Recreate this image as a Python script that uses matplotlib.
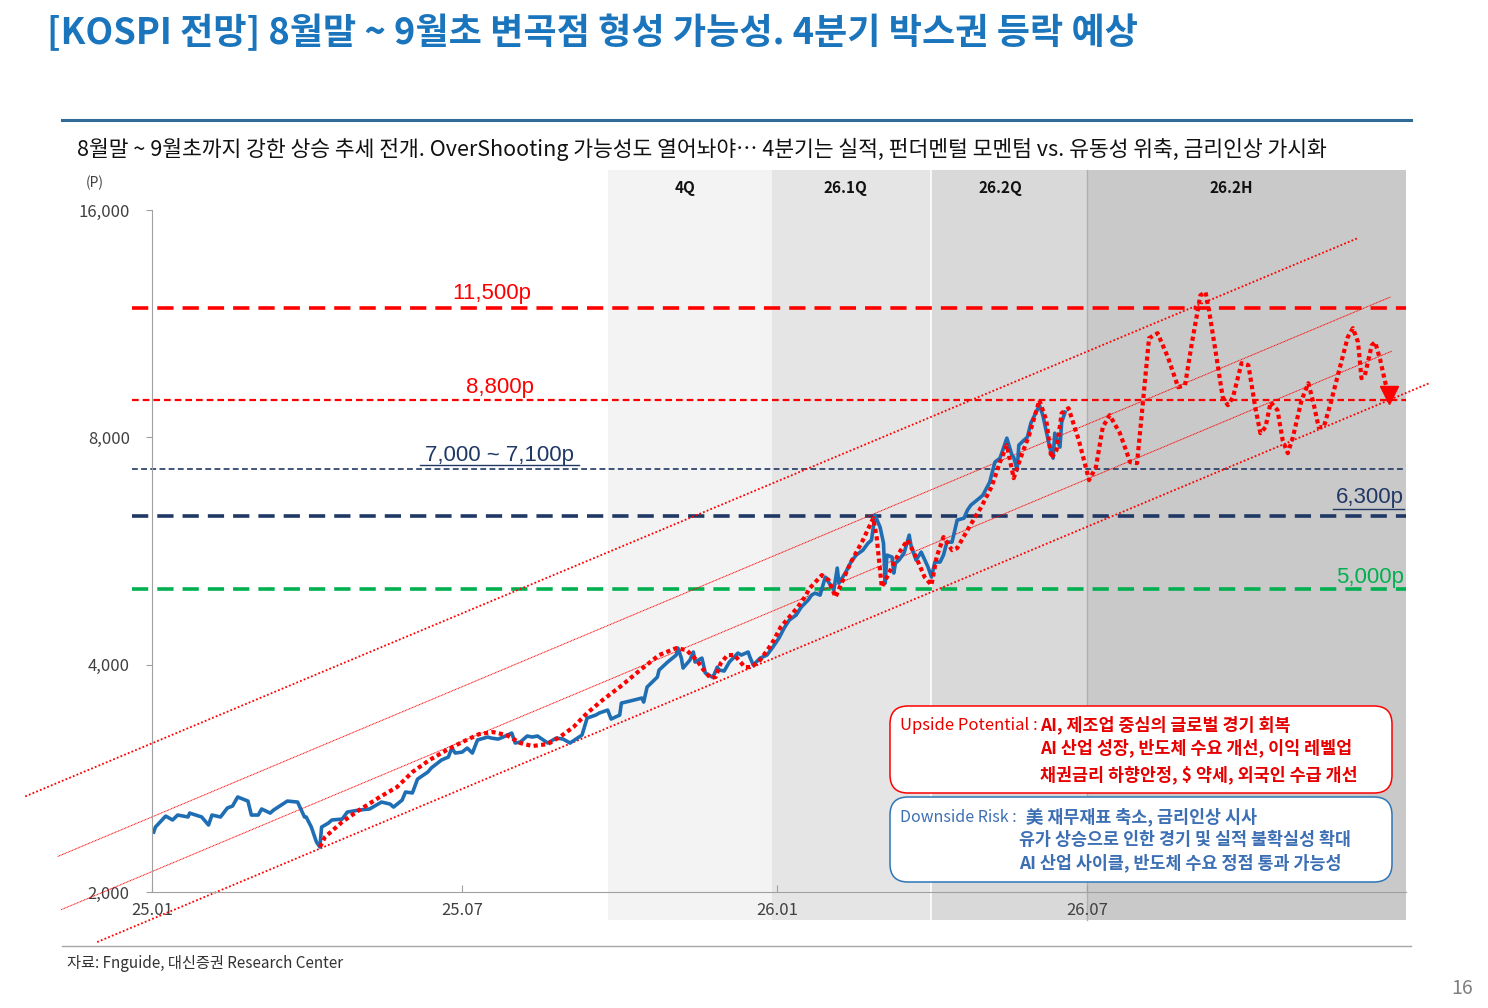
import matplotlib
matplotlib.use('Agg')
import matplotlib.pyplot as plt
import pandas as pd
from matplotlib.patches import FancyBboxPatch, Rectangle
from matplotlib.lines import Line2D
from matplotlib.ticker import NullLocator

plt.rcParams['font.family'] = ['Noto Sans CJK KR', 'DejaVu Sans']

kospi_dates = ['2025-01-02', '2025-01-03', '2025-01-09', '2025-01-13', '2025-01-16', '2025-01-22', '2025-01-23',
               '2025-01-30', '2025-02-03', '2025-02-05', '2025-02-10', '2025-02-14', '2025-02-17', '2025-02-20',
               '2025-02-26', '2025-02-28', '2025-03-04', '2025-03-06', '2025-03-11', '2025-03-13', '2025-03-21',
               '2025-03-27', '2025-03-31', '2025-04-01', '2025-04-04', '2025-04-07', '2025-04-09', '2025-04-10',
               '2025-04-14', '2025-04-16', '2025-04-22', '2025-04-25', '2025-05-02', '2025-05-08', '2025-05-15',
               '2025-05-20', '2025-05-22', '2025-05-27', '2025-05-29', '2025-06-02', '2025-06-05', '2025-06-11',
               '2025-06-13', '2025-06-19', '2025-06-23', '2025-06-25', '2025-06-27', '2025-07-01', '2025-07-04',
               '2025-07-07', '2025-07-10', '2025-07-16', '2025-07-18', '2025-07-22', '2025-07-25', '2025-07-30',
               '2025-08-01', '2025-08-04', '2025-08-08', '2025-08-11', '2025-08-14', '2025-08-20', '2025-08-25',
               '2025-08-29', '2025-09-02', '2025-09-09', '2025-09-12', '2025-09-17', '2025-09-19', '2025-09-24',
               '2025-09-26', '2025-10-01', '2025-10-02', '2025-10-07', '2025-10-14', '2025-10-15', '2025-10-17',
               '2025-10-23', '2025-10-24', '2025-10-29', '2025-11-03', '2025-11-04', '2025-11-06', '2025-11-07',
               '2025-11-11', '2025-11-13', '2025-11-14', '2025-11-18', '2025-11-20', '2025-11-24', '2025-11-25',
               '2025-11-27', '2025-11-28', '2025-12-01', '2025-12-04', '2025-12-08', '2025-12-09', '2025-12-11',
               '2025-12-15', '2025-12-16', '2025-12-18', '2025-12-22', '2025-12-26', '2025-12-29', '2026-01-02',
               '2026-01-05', '2026-01-08', '2026-01-12', '2026-01-15', '2026-01-19', '2026-01-21', '2026-01-23',
               '2026-01-26', '2026-01-29', '2026-02-03', '2026-02-05', '2026-02-06', '2026-02-10', '2026-02-13',
               '2026-02-16', '2026-02-20', '2026-02-23', '2026-02-25', '2026-02-27', '2026-03-02', '2026-03-04',
               '2026-03-05', '2026-03-06', '2026-03-09', '2026-03-10', '2026-03-11', '2026-03-13', '2026-03-16',
               '2026-03-19', '2026-03-20', '2026-03-23', '2026-03-26', '2026-03-30', '2026-04-01', '2026-04-03',
               '2026-04-06', '2026-04-08', '2026-04-10', '2026-04-13', '2026-04-16', '2026-04-20', '2026-04-22',
               '2026-04-24', '2026-04-29', '2026-05-01', '2026-05-05', '2026-05-08', '2026-05-11', '2026-05-13',
               '2026-05-15', '2026-05-18', '2026-05-19', '2026-05-21', '2026-05-22', '2026-05-25', '2026-05-27',
               '2026-05-29', '2026-06-03', '2026-06-05', '2026-06-09', '2026-06-11', '2026-06-12', '2026-06-15',
               '2026-06-16', '2026-06-18']
kospi_values = [2401, 2438, 2521, 2491, 2529, 2514, 2544,
                2514, 2453, 2529, 2514, 2584, 2599, 2672,
                2639, 2529, 2529, 2576, 2544, 2568, 2639,
                2631, 2514, 2514, 2438, 2329, 2294, 2438,
                2468, 2491, 2498, 2552, 2568, 2576, 2631,
                2615, 2591, 2647, 2713, 2705, 2822, 2883,
                2919, 2991, 3018, 3102, 3055, 3064, 3102,
                3055, 3179, 3208, 3198, 3188, 3208, 3247,
                3150, 3159, 3218, 3208, 3218, 3150, 3198,
                3188, 3150, 3227, 3399, 3430, 3451, 3483,
                3389, 3430, 3558, 3580, 3613, 3569, 3736,
                3852, 3935, 4032, 4119, 4207, 4081, 3959,
                4056, 4157, 4032, 4081, 3899, 3852, 3875,
                3971, 3935, 3923, 4032, 4119, 4144, 4119,
                4157, 4094, 3995, 4081, 4119, 4207, 4338,
                4472, 4583, 4653, 4768, 4870, 4945, 4975,
                4945, 5224, 5021, 5370, 5129, 5304, 5469,
                5586, 5672, 5795, 5848, 6311, 6084, 5795,
                5129, 5586, 5553, 5288, 5452, 5502, 5621,
                5938, 5759, 5502, 5638, 5386, 5224, 5469,
                5469, 5586, 5812, 5812, 6215, 6253, 6408,
                6506, 6646, 6707, 6979, 7417, 7508, 7740,
                7980, 7577, 7531, 7239, 7812, 7931, 8004,
                8353, 8824, 8559, 7764, 7508, 8102, 7764,
                8379, 8638]

# expected path (red dotted)
path_dates = ['2025-04-09', '2025-04-12', '2025-04-22', '2025-05-02', '2025-05-14', '2025-05-24', '2025-06-02',
              '2025-06-12', '2025-06-22', '2025-07-01', '2025-07-11', '2025-07-19', '2025-07-27', '2025-08-04',
              '2025-08-11', '2025-08-20', '2025-08-27', '2025-09-04', '2025-09-12', '2025-09-21', '2025-10-01',
              '2025-10-13', '2025-10-24', '2025-11-03', '2025-11-09', '2025-11-15', '2025-11-19', '2025-11-23',
              '2025-11-26', '2025-11-29', '2025-12-03', '2025-12-07', '2025-12-13', '2025-12-17', '2025-12-22',
              '2025-12-27', '2025-12-30', '2026-01-03', '2026-01-08', '2026-01-13', '2026-01-17', '2026-01-20',
              '2026-01-27', '2026-01-31', '2026-02-04', '2026-02-07', '2026-02-13', '2026-02-20', '2026-02-26',
              '2026-02-28', '2026-03-03', '2026-03-06', '2026-03-13', '2026-03-18', '2026-03-23', '2026-03-28',
              '2026-04-01', '2026-04-04', '2026-04-08', '2026-04-13', '2026-04-16', '2026-04-23', '2026-04-30',
              '2026-05-06', '2026-05-11', '2026-05-15', '2026-05-19', '2026-05-24', '2026-05-28', '2026-06-03',
              '2026-06-07', '2026-06-10', '2026-06-13', '2026-06-16', '2026-06-20', '2026-06-26', '2026-07-02',
              '2026-07-06', '2026-07-10', '2026-07-14', '2026-07-20', '2026-07-26', '2026-07-30', '2026-08-02',
              '2026-08-06', '2026-08-11', '2026-08-17', '2026-08-23', '2026-08-27', '2026-08-31', '2026-09-05',
              '2026-09-08', '2026-09-10', '2026-09-14', '2026-09-18', '2026-09-21', '2026-09-24', '2026-09-29',
              '2026-10-03', '2026-10-07', '2026-10-10', '2026-10-13', '2026-10-16', '2026-10-20', '2026-10-23',
              '2026-10-26', '2026-10-29', '2026-11-03', '2026-11-07', '2026-11-10', '2026-11-13', '2026-11-16',
              '2026-11-20', '2026-11-25', '2026-11-30', '2026-12-03', '2026-12-06', '2026-12-08', '2026-12-10',
              '2026-12-14', '2026-12-16', '2026-12-19', '2026-12-22', '2026-12-24']
path_values = [2294, 2365, 2476, 2568, 2672, 2754, 2883,
               2991, 3083, 3159, 3237, 3257, 3227, 3150,
               3121, 3140, 3208, 3307, 3451, 3591, 3736,
               3935, 4119, 4207, 4182, 4056, 3935, 3840,
               3852, 4019, 4119, 4119, 3971, 3971, 4056,
               4207, 4311, 4486, 4625, 4768, 4915, 5052,
               5256, 5177, 4915, 5098, 5469, 5848, 6253,
               5902, 5067, 5224, 5621, 5848, 5553, 5224,
               5098, 5553, 5902, 5672, 5707, 6084, 6466,
               6873, 7417, 7812, 7064, 7623, 8053, 8959,
               8430, 7508, 7693, 8612, 8744, 7931, 7021,
               7305, 8252, 8559, 8102, 7417, 7395, 8691,
               10824, 10990, 10215, 9321, 9378, 10660, 12340,
               12453, 11788, 10340, 9042, 8824, 9042, 10030,
               9969, 8770, 8102, 8252, 8905, 8691, 7931,
               7623, 8004, 8959, 9436, 8878, 8252, 8252,
               8878, 9818, 10857, 11159, 10693, 9581, 9669,
               10595, 10693, 10121, 9436, 9098]

# horizontal levels (as drawn) and their labels
level_values = [11870, 8960, 7270, 6300, 5040]
level_labels = ['11,500p', '8,800p', '7,000 ~ 7,100p', '6,300p', '5,000p']

# trend channel lines (start/end)
chan_start_dates = ['2024-10-19', '2024-11-07', '2024-11-09', '2024-11-30']
chan_start_values = [2677, 2229, 1895, 1717]
chan_end_dates = ['2026-12-06', '2026-12-25', '2026-12-26', '2027-01-17']
chan_end_values = [14690, 12275, 10411, 9445]

period_labels = ['4Q', '26.1Q', '26.2Q', '26.2H']
period_edges = ['2025-09-24', '2025-12-29', '2026-04-01', '2026-07-01', '2027-01-03']
period_label_at = ['2025-11-08', '2026-02-10', '2026-05-11', '2026-09-23']
period_colors = ['#f3f3f3', '#e5e5e5', '#d9d9d9', '#c9c9c9']

y_ticks = [2000, 4000, 8000, 16000]
x_ticks = ['2025-01-01', '2025-07-01', '2026-01-01', '2026-07-01']
x_tick_labels = ['25.01', '25.07', '26.01', '26.07']

RED = '#ff0000'
NAVY = '#1f3864'
GREEN = '#00b050'
BLUE = '#1f6eb4'
W, H = 1488, 1008


def ftext(px, py, s, **kw):
    return fig.text(px / W, 1 - py / H, s, **kw)


def fline(x0, x1, py, **kw):
    fig.add_artist(Line2D([x0 / W, x1 / W], [1 - py / H] * 2, transform=fig.transFigure, **kw))


fig = plt.figure(figsize=(14.88, 10.08), dpi=100)
ax = fig.add_axes([152 / W, 116 / H, 1254 / W, 682 / H])
ax.patch.set_alpha(0)
ax.set_yscale('log')
ax.set_ylim(2000, 16000)
ax.set_xlim(pd.Timestamp('2025-01-01'), pd.Timestamp(period_edges[-1]))

# period shading
edges = matplotlib.dates.date2num(pd.to_datetime(period_edges))
label_x = pd.to_datetime(period_label_at)
trans = ax.get_xaxis_transform()
for i, lab in enumerate(period_labels):
    ax.add_patch(Rectangle((edges[i], -0.041), edges[i + 1] - edges[i], 1.1, transform=trans,
                           facecolor=period_colors[i], edgecolor='none', clip_on=False, zorder=0))
    ax.text(label_x[i], 1.032, lab, transform=trans, ha='center', va='center',
            fontsize=11, fontweight='bold', color='#111111')
ax.axvline(edges[2], ymin=-0.041, ymax=1.059, color='white', lw=1.2, clip_on=False, zorder=0.5)
ax.axvline(edges[3], ymin=-0.041, ymax=1.059, color='#b0b0b0', lw=1, clip_on=False, zorder=0.5)

# levels
level_styles = [dict(color=RED, lw=2.6, dashes=(4.5, 2.5)),
                dict(color=RED, lw=1.6, dashes=(3, 1.8)),
                dict(color=NAVY, lw=1.2, dashes=(3.5, 2)),
                dict(color=NAVY, lw=2.6, dashes=(4.5, 2.5)),
                dict(color=GREEN, lw=2.6, dashes=(4.5, 2.5))]
for v, st in zip(level_values, level_styles):
    ax.axhline(v, xmin=-0.016, xmax=1, clip_on=False, zorder=2, **st)

# channel lines
chan_styles = [dict(lw=1.3, linestyle=(0, (1, 1.2))),
               dict(lw=0.7, linestyle=(0, (1, 0.6))),
               dict(lw=0.7, linestyle=(0, (1, 0.6))),
               dict(lw=1.3, linestyle=(0, (1, 1.2)))]
for i in range(4):
    ax.plot(pd.to_datetime([chan_start_dates[i], chan_end_dates[i]]),
            [chan_start_values[i], chan_end_values[i]], color=RED, clip_on=False, zorder=3, **chan_styles[i])

ax.plot(pd.to_datetime(kospi_dates), kospi_values, color=BLUE, lw=2.6, zorder=4, solid_joinstyle='round')
ax.plot(pd.to_datetime(path_dates), path_values, color=RED, lw=3.0, linestyle=(0, (1, 0.8)), zorder=5)
ax.plot(pd.to_datetime(path_dates[-1:]), path_values[-1:], marker='v', color=RED, markersize=13, zorder=5)

# axes styling
for s in ['top', 'right']:
    ax.spines[s].set_visible(False)
for s in ['left', 'bottom']:
    ax.spines[s].set_color('#a0a0a0')
    ax.spines[s].set_zorder(6)
ax.yaxis.set_minor_locator(NullLocator())
ax.set_yticks(y_ticks)
ax.set_yticklabels([f'{v:,}' for v in y_ticks])
ax.set_xticks(pd.to_datetime(x_ticks))
ax.set_xticklabels(x_tick_labels)
ax.tick_params(axis='y', direction='out', length=4, pad=12, colors='#a0a0a0', labelcolor='#404040', labelsize=12)
ax.tick_params(axis='x', direction='in', length=5, pad=7, colors='#a0a0a0', labelcolor='#404040', labelsize=12)

# level labels
lab_font = ['Liberation Sans', 'Noto Sans CJK KR']
ftext(492, 293, level_labels[0], ha='center', va='center', fontsize=16, color=RED, family=lab_font)
ftext(500, 387, level_labels[1], ha='center', va='center', fontsize=16, color=RED, family=lab_font)
ftext(500, 455, level_labels[2], ha='center', va='center', fontsize=16, color=NAVY, family=lab_font)
fline(420, 579, 465, color=NAVY, lw=1)
ftext(1404, 498, level_labels[3], ha='right', va='center', fontsize=16, color=NAVY, family=lab_font)
fline(1333, 1404, 509, color=NAVY, lw=1)
ftext(1404, 578, level_labels[4], ha='right', va='center', fontsize=16, color=GREEN, family=lab_font)

# header
ftext(47, 33, '[KOSPI 전망] 8월말 ~ 9월초 변곡점 형성 가능성. 4분기 박스권 등락 예상',
      ha='left', va='center', fontsize=26, fontweight='bold', color='#1a75bc')
fline(62, 1411, 120, color='#2f6b96', lw=2.2)
ftext(77, 149, '8월말 ~ 9월초까지 강한 상승 추세 전개. OverShooting 가능성도 열어놔야… '
      '4분기는 실적, 펀더멘털 모멘텀 vs. 유동성 위축, 금리인상 가시화',
      ha='left', va='center', fontsize=15.5, fontweight='medium', color='#111111')
ftext(95, 183, '(P)', ha='center', va='center', fontsize=10, color='#404040')

# footer
fline(62, 1411, 946, color='#a6a6a6', lw=1)
ftext(67, 963, '자료: Fnguide, 대신증권 Research Center', ha='left', va='center', fontsize=11, color='#333333')
ftext(1462, 988, '16', ha='center', va='center', fontsize=14, color='#808080')

# note boxes
box_up = FancyBboxPatch((8.90, 2.15), 5.02, 0.87, boxstyle='round,pad=0,rounding_size=0.18',
                        transform=fig.dpi_scale_trans, facecolor='white', edgecolor=RED, lw=1.1, zorder=10)
box_dn = FancyBboxPatch((8.90, 1.26), 5.02, 0.85, boxstyle='round,pad=0,rounding_size=0.18',
                        transform=fig.dpi_scale_trans, facecolor='white', edgecolor='#2e75b6', lw=1.1, zorder=10)
fig.add_artist(box_up)
fig.add_artist(box_dn)

UP_C = '#e60000'
DN_C = '#3d6fb4'
ftext(900, 725, 'Upside Potential :', ha='left', va='center', fontsize=12, color=UP_C, zorder=11)
ftext(1040, 725, 'AI, 제조업 중심의 글로벌 경기 회복', ha='left', va='center', fontsize=12.5,
      fontweight='bold', color=UP_C, zorder=11)
ftext(1040, 748, 'AI 산업 성장, 반도체 수요 개선, 이익 레벨업', ha='left', va='center', fontsize=12.5,
      fontweight='bold', color=UP_C, zorder=11)
ftext(1040, 775, '채권금리 하향안정, $ 약세, 외국인 수급 개선', ha='left', va='center', fontsize=12.5,
      fontweight='bold', color=UP_C, zorder=11)
ftext(900, 817, 'Downside Risk :', ha='left', va='center', fontsize=11.5, color=DN_C, zorder=11)
ftext(1026, 817, '美 재무재표 축소, 금리인상 시사', ha='left', va='center', fontsize=12.5,
      fontweight='bold', color=DN_C, zorder=11)
ftext(1019, 840, '유가 상승으로 인한 경기 및 실적 불확실성 확대', ha='left', va='center', fontsize=12.5,
      fontweight='bold', color=DN_C, zorder=11)
ftext(1019, 863, 'AI 산업 사이클, 반도체 수요 정점 통과 가능성', ha='left', va='center', fontsize=12.5,
      fontweight='bold', color=DN_C, zorder=11)

fig.savefig('out.png', dpi=100, facecolor='white')
